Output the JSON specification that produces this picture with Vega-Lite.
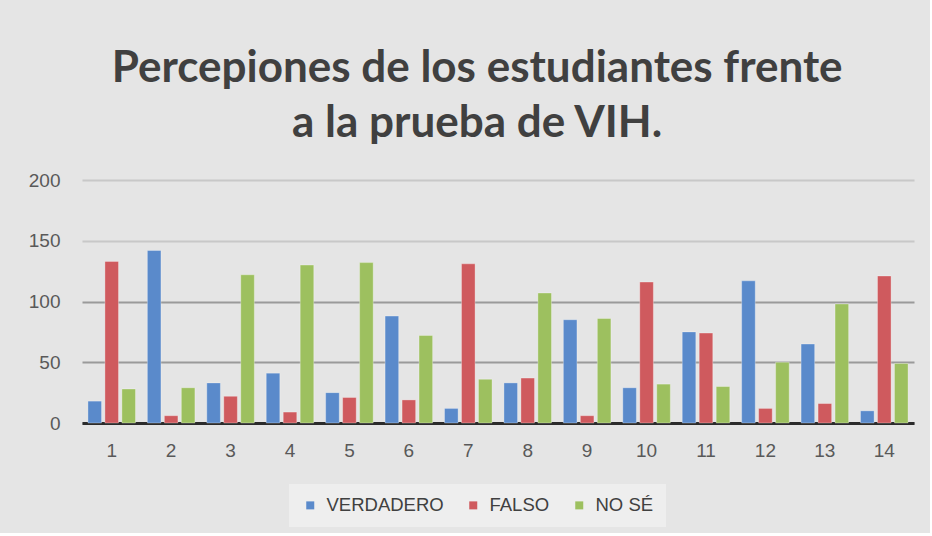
{
  "$schema": "https://vega.github.io/schema/vega-lite/v6.json",
  "width": 832,
  "height": 243,
  "padding": {"left": 28, "top": 47, "right": 16, "bottom": 6},
  "background": "#e5e5e5",
  "title": {
    "text": ["Percepiones de los estudiantes frente", "a la prueba de VIH."],
    "font": "Lato",
    "fontWeight": "bold",
    "fontSize": 44,
    "lineHeight": 55,
    "color": "#404040",
    "anchor": "middle",
    "frame": "bounds",
    "dx": 6,
    "offset": 25
  },
  "data": {
    "values": [
      {"q": 1, "cat": "VERDADERO", "v": 18}, {"q": 1, "cat": "FALSO", "v": 133}, {"q": 1, "cat": "NO SÉ", "v": 28},
      {"q": 2, "cat": "VERDADERO", "v": 142}, {"q": 2, "cat": "FALSO", "v": 6}, {"q": 2, "cat": "NO SÉ", "v": 29},
      {"q": 3, "cat": "VERDADERO", "v": 33}, {"q": 3, "cat": "FALSO", "v": 22}, {"q": 3, "cat": "NO SÉ", "v": 122},
      {"q": 4, "cat": "VERDADERO", "v": 41}, {"q": 4, "cat": "FALSO", "v": 9}, {"q": 4, "cat": "NO SÉ", "v": 130},
      {"q": 5, "cat": "VERDADERO", "v": 25}, {"q": 5, "cat": "FALSO", "v": 21}, {"q": 5, "cat": "NO SÉ", "v": 132},
      {"q": 6, "cat": "VERDADERO", "v": 88}, {"q": 6, "cat": "FALSO", "v": 19}, {"q": 6, "cat": "NO SÉ", "v": 72},
      {"q": 7, "cat": "VERDADERO", "v": 12}, {"q": 7, "cat": "FALSO", "v": 131}, {"q": 7, "cat": "NO SÉ", "v": 36},
      {"q": 8, "cat": "VERDADERO", "v": 33}, {"q": 8, "cat": "FALSO", "v": 37}, {"q": 8, "cat": "NO SÉ", "v": 107},
      {"q": 9, "cat": "VERDADERO", "v": 85}, {"q": 9, "cat": "FALSO", "v": 6}, {"q": 9, "cat": "NO SÉ", "v": 86},
      {"q": 10, "cat": "VERDADERO", "v": 29}, {"q": 10, "cat": "FALSO", "v": 116}, {"q": 10, "cat": "NO SÉ", "v": 32},
      {"q": 11, "cat": "VERDADERO", "v": 75}, {"q": 11, "cat": "FALSO", "v": 74}, {"q": 11, "cat": "NO SÉ", "v": 30},
      {"q": 12, "cat": "VERDADERO", "v": 117}, {"q": 12, "cat": "FALSO", "v": 12}, {"q": 12, "cat": "NO SÉ", "v": 50},
      {"q": 13, "cat": "VERDADERO", "v": 65}, {"q": 13, "cat": "FALSO", "v": 16}, {"q": 13, "cat": "NO SÉ", "v": 98},
      {"q": 14, "cat": "VERDADERO", "v": 10}, {"q": 14, "cat": "FALSO", "v": 121}, {"q": 14, "cat": "NO SÉ", "v": 49}
    ]
  },
  "mark": {"type": "bar", "stroke": "#ffffff", "strokeOpacity": 0.3, "strokeWidth": 1},
  "encoding": {
    "x": {
      "field": "q",
      "type": "ordinal",
      "scale": {"paddingInner": 0.2, "paddingOuter": 0.1},
      "axis": {
        "title": null,
        "labelAngle": 0,
        "ticks": false,
        "domainColor": "#2b2b2b",
        "domainWidth": 3,
        "labelPadding": 18,
        "labelFont": "Liberation Sans",
        "labelFontSize": 19,
        "labelColor": "#595959"
      }
    },
    "xOffset": {
      "field": "cat",
      "type": "nominal",
      "sort": ["VERDADERO", "FALSO", "NO SÉ"],
      "scale": {"paddingInner": 0.2}
    },
    "y": {
      "field": "v",
      "type": "quantitative",
      "scale": {"domain": [0, 200]},
      "axis": {
        "title": null,
        "values": [0, 50, 100, 150, 200],
        "domain": false,
        "ticks": false,
        "gridColor": {"condition": {"test": "datum.value <= 100", "value": "#9a9a9a"}, "value": "#c8c8c8"},
        "gridWidth": 2,
        "labelPadding": 22,
        "labelFont": "Liberation Sans",
        "labelFontSize": 19,
        "labelColor": "#595959"
      }
    },
    "color": {
      "field": "cat",
      "type": "nominal",
      "sort": ["VERDADERO", "FALSO", "NO SÉ"],
      "scale": {"domain": ["VERDADERO", "FALSO", "NO SÉ"], "range": ["#5A8ACB", "#CF5A5E", "#9DC05F"]},
      "legend": {
        "title": null,
        "orient": "none",
        "direction": "horizontal",
        "legendX": 207,
        "legendY": 304,
        "fillColor": "#eeeeee",
        "padding": 12,
        "symbolType": "square",
        "symbolSize": 64,
        "symbolOpacity": 1,
        "symbolStrokeWidth": 0,
        "labelFont": "Liberation Sans",
        "labelFontSize": 18.5,
        "labelColor": "#404040",
        "columnPadding": 20,
        "labelOffset": 7
      }
    }
  },
  "config": {
    "view": {"stroke": null},
    "bar": {"opacity": 1}
  }
}
